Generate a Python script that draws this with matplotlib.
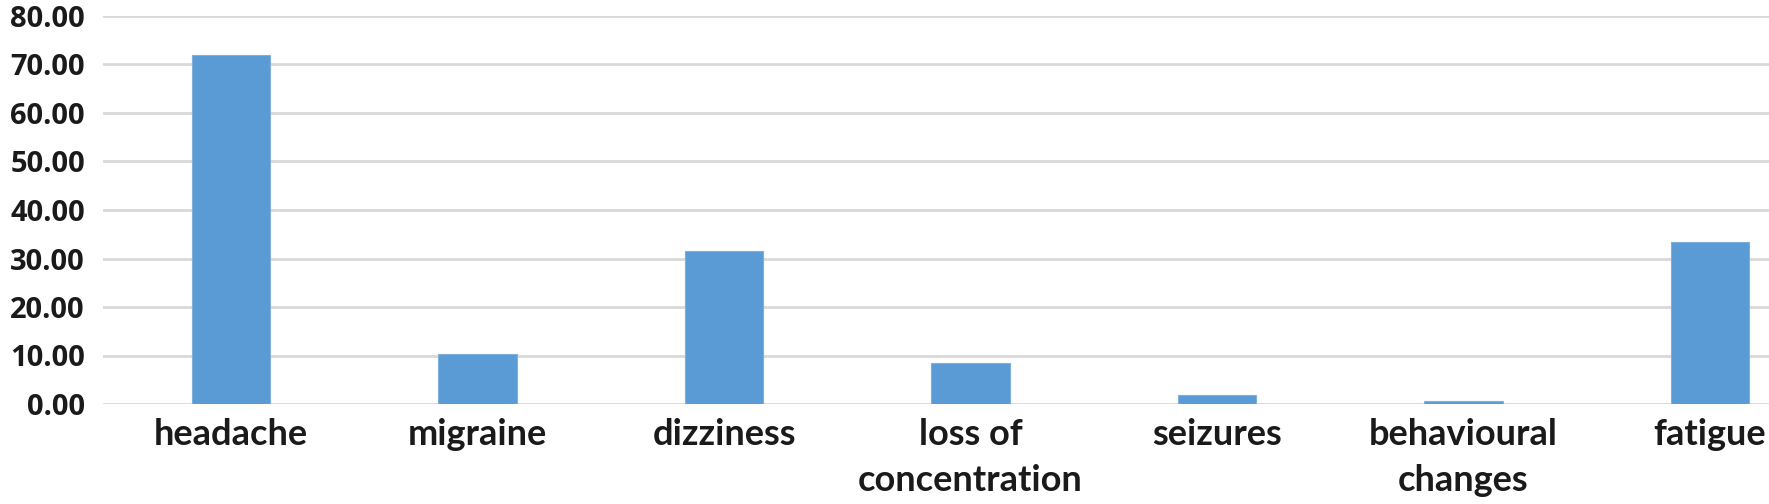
import matplotlib.pyplot as plt
import numpy as np

categories = ['headache', 'migraine', 'dizziness', 'loss of\nconcentration',
              'seizures', 'behavioural\nchanges', 'fatigue']
values = [72.0, 10.3, 31.5, 8.4, 1.9, 0.7, 33.4]
yticks = [0, 10, 20, 30, 40, 50, 60, 70, 80]

W, H = 1769, 504
step = 246.5   # pixels per category
first = 231.0  # pixel centre of the first category
left = 103     # where the gridlines start
fig = plt.figure(figsize=(W / 100, H / 100), dpi=100)
# zero line at y=404, 80 at y=16
ax = fig.add_axes([left / W, 100 / H, 1 - left / W, 388 / H])

x = np.arange(len(categories))
ax.bar(x, values, width=0.32, color='#5b9bd5', edgecolor='#7fb0dd',
       linewidth=0.8, zorder=3)

ax.set_ylim(0, 80)
x0 = (left - first) / step
ax.set_xlim(x0, x0 + (W - left) / step)
ax.set_yticks(yticks)
ax.set_yticklabels(['%.2f' % v for v in yticks], fontfamily='Open Sans',
                   fontweight='bold', fontsize=21, color='#1a1a1a')
ax.set_xticks(x)
ax.set_xticklabels(categories, fontfamily='Lato', fontweight='bold',
                   fontsize=26, color='#1a1a1a', linespacing=1.48)
ax.tick_params(axis='both', length=0)
ax.tick_params(axis='y', pad=13)
ax.tick_params(axis='x', pad=10)

ax.grid(axis='y', color='#d9d9d9', linewidth=2, zorder=0)
for s in ax.spines.values():
    s.set_visible(False)

fig.savefig('out.png', dpi=100)
